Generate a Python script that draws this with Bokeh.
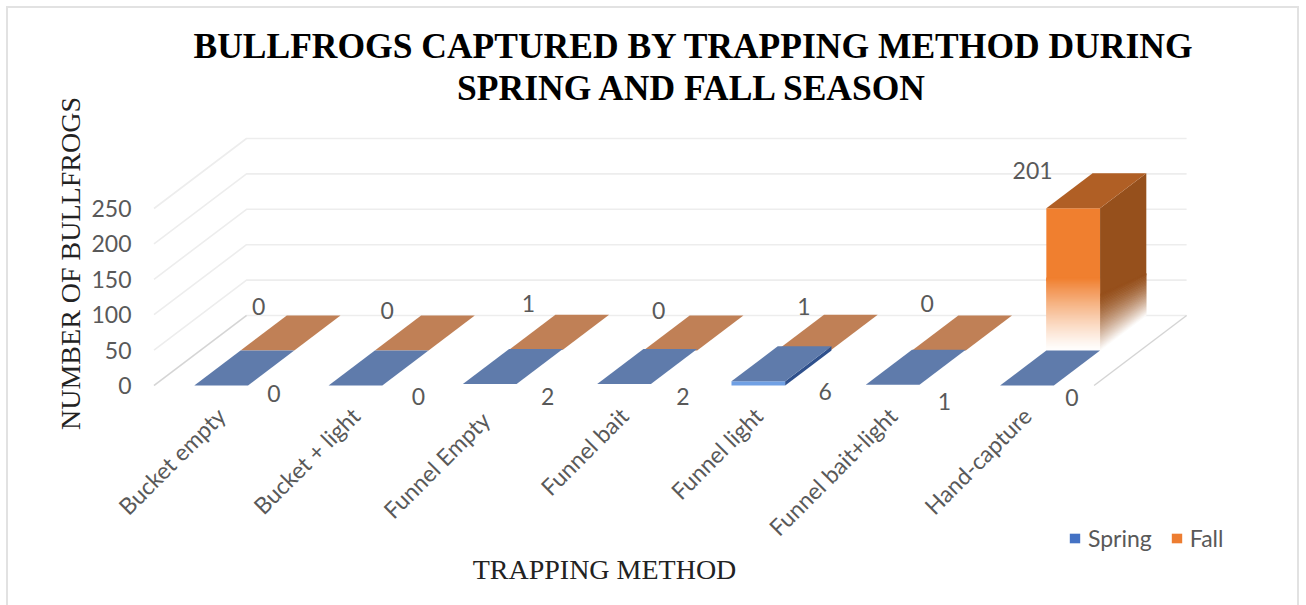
import math
from bokeh.plotting import figure
from bokeh.models import (ColumnDataSource, FixedTicker, Label, Legend, LegendItem,
                          Range1d, Title)
from bokeh.core.properties import value
from bokeh.embed import file_html
from bokeh.resources import INLINE

# ---- data ----
categories = ["Bucket empty", "Bucket + light", "Funnel  Empty", "Funnel bait",
              "Funnel light", "Funnel bait+light", "Hand-capture"]
spring = [0, 0, 2, 2, 6, 1, 0]
fall = [0, 0, 1, 0, 1, 0, 201]
value_ticks = [0, 50, 100, 150, 200, 250]

# ---- label nudges (screen px) ----
spring_dx = [26, 36, 31, 32, 40, 25, 18]
spring_dy = [8, 11, 12, 12, 10, 17, 12]
fall_dx = [-28, -34, -27, -31, -20, -31, -60]
fall_dy = [-9, -5, -11, -5, -8, -12, -3]

# ---- page geometry ----
CANVAS_X, CANVAS_Y, W, H = 8, 8, 1289, 597
FRAME_T = 70
PX_CAT = 134.3      # px per category
PX_VAL = 0.708      # px per value unit
FLOOR_X0, FLOOR_Y0 = 153.5, 385   # page px of the front-left floor corner
DX = 92.5 / PX_CAT  # full floor depth, in category units
DY = 70 / PX_VAL    # full floor depth, in value units
HALF = 0.2          # half bar width, category units
N_CAT = len(categories)

def xpx(px):
    return (px - FLOOR_X0) / PX_CAT - 0.5

def ypx(py):
    return (FLOOR_Y0 - py) / PX_VAL

def P(x, z, v):
    """Oblique projection: category, depth 0..1, value -> plot coordinates."""
    return x + z * DX, v + z * DY

p = figure(width=W, height=H, output_backend="svg", toolbar_location=None,
           x_range=Range1d(xpx(CANVAS_X), xpx(CANVAS_X + W)),
           y_range=Range1d(ypx(CANVAS_Y + H), ypx(FRAME_T)),
           min_border_left=0, min_border_right=0, min_border_bottom=0,
           min_border_top=FRAME_T - CANVAS_Y,
           background_fill_color="white", border_fill_color="white",
           outline_line_color=None)
p.margin = (CANVAS_Y, 0, 0, CANVAS_X)
p.styles = {"outline": "2px solid #E2E2E2", "outline-offset": "0px"}
p.grid.grid_line_color = None

# ---- walls ----
x_lo, x_hi = -0.5, N_CAT - 0.5
wall_xs, wall_ys = [], []
for v in value_ticks:
    a, b, c = P(x_lo, 0, v), P(x_lo, 1, v), P(x_hi, 1, v)
    wall_xs.append([a[0], b[0], c[0]])
    wall_ys.append([a[1], b[1], c[1]])
p.multi_line(wall_xs, wall_ys, line_color="#EDEDED", line_width=1.6)
fl = [P(x_lo, 0, 0), P(x_lo, 1, 0)]
fr = [P(x_hi, 0, 0), P(x_hi, 1, 0)]
p.multi_line([[q[0] for q in fl], [q[0] for q in fr]],
             [[q[1] for q in fl], [q[1] for q in fr]],
             line_color="#D4D4D4", line_width=1.4)

# ---- bars ----
def blend(rgb, a):
    return "#%02X%02X%02X" % tuple(round(255 + (c - 255) * a) for c in rgb)

xs, ys, cols = [], [], []
def face(pts, col):
    xs.append([q[0] for q in pts])
    ys.append([q[1] for q in pts])
    cols.append(col)

STEPS = 70
FADE_FRONT = 103
SIDE_FRONT, SIDE_BACK = 80, 60
OVERLAP = 0.05
def bar(i, z0, v, front, side, top_tall, top_low, front_low, side_low):
    x0, x1, z1 = i - HALF, i + HALF, z0 + 0.5
    tall = v > 20
    if v > 2 and not tall:
        face([P(x0, z0, 0), P(x1, z0, 0), P(x1, z0, v), P(x0, z0, v)], blend(front_low, 1))
        face([P(x1, z0, 0), P(x1, z1, 0), P(x1, z1, v), P(x1, z0, v)], blend(side_low, 1))
    if tall:
        # solid part, then overlapping bands that fade out towards the floor
        keep = 1 - OVERLAP
        face([P(x0, z0, FADE_FRONT * keep), P(x1, z0, FADE_FRONT * keep), P(x1, z0, v), P(x0, z0, v)], blend(front, 1))
        face([P(x1, z0, SIDE_FRONT * keep), P(x1, z1, SIDE_BACK * keep), P(x1, z1, v), P(x1, z0, v)], blend(side, 1))
        for k in range(STEPS):
            t, u = k / STEPS, min(1, (k + 2) / STEPS)
            face([P(x0, z0, FADE_FRONT * (1 - u)), P(x1, z0, FADE_FRONT * (1 - u)),
                  P(x1, z0, FADE_FRONT * (1 - t)), P(x0, z0, FADE_FRONT * (1 - t))],
                 blend(front, (1 - t) ** 1.2))
            face([P(x1, z0, SIDE_FRONT * (1 - u)), P(x1, z1, SIDE_BACK * (1 - u)),
                  P(x1, z1, SIDE_BACK * (1 - t)), P(x1, z0, SIDE_FRONT * (1 - t))],
                 blend(side, 1 - t ** 1.4))
    face([P(x0, z0, v), P(x1, z0, v), P(x1, z1, v), P(x0, z1, v)],
         blend(top_tall if tall else top_low, 1))

for i in range(N_CAT):
    bar(i, 0.5, fall[i], (0xF0, 0x7F, 0x2F), (0x96, 0x50, 0x1C), (0xB0, 0x5F, 0x25),
        (0xC0, 0x80, 0x56), (0xE8, 0x9A, 0x66), (0x96, 0x50, 0x1C))
    bar(i, 0.0, spring[i], (0x44, 0x72, 0xC4), (0x2F, 0x50, 0x8C), (0x5F, 0x7B, 0xAB),
        (0x5F, 0x7B, 0xAB), (0x70, 0xA0, 0xE4), (0x2F, 0x50, 0x8C))
p.patches(xs, ys, fill_color=cols, line_color=None)

# ---- data labels ----
LABEL_FONT = "Lato"
TEXT_GREY = "#595959"
sp = [P(i + HALF, 0, v) for i, v in enumerate(spring)]
fa = [P(i - HALF, 1, v) for i, v in enumerate(fall)]
src = ColumnDataSource(dict(
    x=[q[0] for q in sp] + [q[0] for q in fa],
    y=[q[1] for q in sp] + [q[1] for q in fa],
    t=[str(v) for v in spring] + [str(v) for v in fall],
    dx=spring_dx + fall_dx,
    dy=spring_dy + fall_dy))
p.text("x", "y", text="t", x_offset="dx", y_offset="dy", source=src,
       text_font=value(LABEL_FONT), text_font_size="23px", text_color=TEXT_GREY,
       text_align="center", text_baseline="middle")

# ---- axes, pinned inside the frame ----
ya = p.yaxis[0]
ya.fixed_location = xpx(145)
ya.ticker = FixedTicker(ticks=value_ticks)
ya.axis_line_color = None
ya.major_tick_line_color = None
ya.minor_tick_line_color = None
ya.major_label_text_font = LABEL_FONT
ya.major_label_text_font_size = "23px"
ya.major_label_text_color = TEXT_GREY
ya.major_label_standoff = 8

xa = p.xaxis[0]
xa.fixed_location = ypx(401)
xa.ticker = FixedTicker(ticks=list(range(N_CAT)))
xa.major_label_overrides = {i: c for i, c in enumerate(categories)}
xa.major_label_orientation = 0.785
xa.axis_line_color = None
xa.major_tick_line_color = None
xa.minor_tick_line_color = None
xa.major_label_text_font = LABEL_FONT
xa.major_label_text_font_size = "23px"
xa.major_label_text_color = TEXT_GREY
xa.major_label_standoff = 4

# ---- titles ----
TITLE = dict(text_font="Liberation Serif", text_font_style="bold",
             text_font_size="35.5px", text_color="#000000")
p.add_layout(Title(text="BULLFROGS CAPTURED BY TRAPPING METHOD DURING", align="left",
                   offset=193 - CANVAS_X, standoff=9, **TITLE), "above")
p.add_layout(Label(x=xpx(692.5), y=ypx(87), text="SPRING AND FALL SEASON",
                   text_align="center", text_baseline="middle", **TITLE))
p.add_layout(Label(x=xpx(70), y=ypx(263), text="NUMBER OF BULLFROGS", angle=math.pi / 2,
                   text_font="Liberation Serif", text_font_size="28px", text_color="#222222",
                   text_align="center", text_baseline="middle"))
p.add_layout(Label(x=xpx(604), y=ypx(569), text="TRAPPING METHOD",
                   text_font="Liberation Serif", text_font_size="28px", text_color="#222222",
                   text_align="center", text_baseline="middle"))

# ---- legend ----
nan = float("nan")
r1 = p.quad(left=[nan], right=[nan], top=[nan], bottom=[nan], fill_color="#4472C4", line_color=None)
r2 = p.quad(left=[nan], right=[nan], top=[nan], bottom=[nan], fill_color="#ED7D31", line_color=None)
lg = Legend(items=[LegendItem(label="Spring", renderers=[r1]), LegendItem(label="Fall", renderers=[r2])],
            orientation="horizontal", location=(1068 - CANVAS_X, CANVAS_Y + H - 552),
            background_fill_alpha=0, border_line_color=None, padding=0, margin=0, spacing=18,
            glyph_width=13, glyph_height=12, label_standoff=7,
            label_text_font=LABEL_FONT, label_text_font_size="23px", label_text_color=TEXT_GREY)
p.add_layout(lg, "center")

open("out.html", "w").write(file_html(p, INLINE))
